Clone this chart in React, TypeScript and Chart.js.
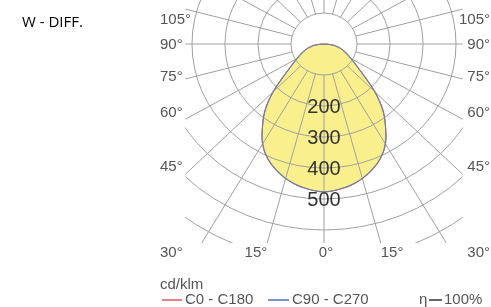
import React, { useEffect, useRef } from 'react';
import { Chart, registerables } from 'chart.js';

Chart.register(...registerables);

// ---- data ----
const gammaAngles = [0, 5, 10, 15, 20, 25, 30, 35, 40, 45, 50, 55, 60, 65, 70, 75, 80, 85, 90];
const intensityC0C180 = [477, 472, 463, 449, 430, 406, 372, 325, 277, 218, 157, 119, 95, 78, 63, 50, 36, 20, 0];
const intensityC90C270 = [477, 472, 463, 449, 430, 406, 372, 325, 277, 218, 157, 119, 95, 78, 63, 50, 36, 20, 0];
const ringValues = [100, 200, 300, 400, 500, 600, 700, 800];
const ringLabelValues = [200, 300, 400, 500];
const rayAngles = [0, 15, 30, 45, 60, 75, 90, 105, 120, 135, 150, 165, 180];
const sideAngleLabels = ['105°', '90°', '75°', '60°', '45°', '30°'];
const bottomAngleLabels = ['15°', '0°', '15°'];
const bottomAngleValues = [-15, 0, 15];
const title = 'W - DIFF.';
const unitLabel = 'cd/klm';
const legendC0 = 'C0 - C180';
const legendC90 = 'C90 - C270';
const efficiencyLabel = '100%';

// ---- layout ----
const W = 491;
const H = 307;
const CX = 324;
const CY = 44;
const KX = 0.33; // px per cd/klm horizontally
const KY = 0.31; // px per cd/klm vertically
const CLIP = { left: -420, right: 420, top: 150, bottom: -642 };
const sideLabelY = [20, 45, 77, 113, 167, 253];

const COLORS = {
  fill: '#f9f08d',
  red: '#e2505e',
  blue: '#4d6fbf',
  outline: '#6f7f9e',
  grid: '#a0a0a0',
  label: '#555555',
  value: '#333333',
};

const rad = (d: number) => (d * Math.PI) / 180;
const polar = (angle: number, r: number, side: number) => ({
  x: side * r * Math.sin(rad(angle)),
  y: -r * Math.cos(rad(angle)),
});

function curve(values: number[]) {
  const pts: { x: number; y: number }[] = [];
  for (let i = gammaAngles.length - 1; i >= 0; i--) pts.push(polar(gammaAngles[i], values[i], -1));
  for (let i = 1; i < gammaAngles.length; i++) pts.push(polar(gammaAngles[i], values[i], 1));
  return pts;
}

const gridPlugin = {
  id: 'polarGrid',
  afterDatasetDraw(chart: any, args: any) {
    if (args.index !== 0) return;
    const { ctx, scales } = chart;
    const sx = scales.x;
    const sy = scales.y;
    const px = (v: number) => sx.getPixelForValue(v);
    const py = (v: number) => sy.getPixelForValue(v);
    ctx.save();
    ctx.beginPath();
    ctx.rect(px(CLIP.left), py(CLIP.top), px(CLIP.right) - px(CLIP.left), py(CLIP.bottom) - py(CLIP.top));
    ctx.clip();
    ctx.strokeStyle = COLORS.grid;
    ctx.lineWidth = 1;
    const ox = px(0);
    const oy = py(0);
    ringValues.forEach((r) => {
      ctx.beginPath();
      ctx.ellipse(ox, oy, px(r) - ox, oy - py(r), 0, 0, Math.PI * 2);
      ctx.stroke();
    });
    rayAngles.forEach((a) => {
      const sides = a === 0 || a === 180 ? [1] : [-1, 1];
      sides.forEach((s) => {
        const p0 = polar(a, ringValues[0], s);
        const p1 = polar(a, 3000, s);
        ctx.beginPath();
        ctx.moveTo(px(p0.x), py(p0.y));
        ctx.lineTo(px(p1.x), py(p1.y));
        ctx.stroke();
      });
    });
    ctx.restore();
  },
  afterDraw(chart: any) {
    const { ctx, scales } = chart;
    const sx = scales.x;
    const sy = scales.y;
    const px = (v: number) => sx.getPixelForValue(v);
    const py = (v: number) => sy.getPixelForValue(v);
    ctx.save();
    // ring value labels
    ctx.fillStyle = COLORS.value;
    ctx.font = '20px "Liberation Sans", Arial, sans-serif';
    ctx.textAlign = 'center';
    ctx.textBaseline = 'middle';
    ringLabelValues.forEach((v) => {
      ctx.fillText(String(v), px(0), py(-v) + 1);
    });
    // side angle labels
    ctx.fillStyle = COLORS.label;
    ctx.font = '15px "Liberation Sans", Arial, sans-serif';
    sideAngleLabels.forEach((t, i) => {
      ctx.textAlign = 'left';
      ctx.fillText(t, 160, sideLabelY[i]);
      ctx.textAlign = 'right';
      ctx.fillText(t, 490, sideLabelY[i]);
    });
    // bottom angle labels
    bottomAngleLabels.forEach((t, i) => {
      const a = bottomAngleValues[i];
      const end = polar(Math.abs(a), -CLIP.bottom / Math.cos(rad(Math.abs(a))), a < 0 ? -1 : 1);
      ctx.textAlign = a < 0 ? 'right' : a > 0 ? 'left' : 'center';
      ctx.fillText(t, px(end.x) + (a === 0 ? 2 : 0), 253);
    });
    // unit + legend
    ctx.textAlign = 'left';
    ctx.fillText(unitLabel, 160, 285);
    ctx.lineWidth = 1.5;
    ctx.strokeStyle = COLORS.red;
    ctx.beginPath();
    ctx.moveTo(162, 300);
    ctx.lineTo(182, 300);
    ctx.stroke();
    ctx.fillText(legendC0, 185, 300);
    ctx.strokeStyle = COLORS.blue;
    ctx.beginPath();
    ctx.moveTo(268, 300);
    ctx.lineTo(289, 300);
    ctx.stroke();
    ctx.fillText(legendC90, 292, 300);
    ctx.fillText('η', 419, 300);
    ctx.strokeStyle = '#333';
    ctx.beginPath();
    ctx.moveTo(429, 300);
    ctx.lineTo(442, 300);
    ctx.stroke();
    ctx.fillText(efficiencyLabel, 444, 300);
    // title
    ctx.fillStyle = '#000';
    ctx.font = '15px "Open Sans", "Noto Sans", sans-serif';
    ctx.fillText(title, 22, 23);
    ctx.restore();
  },
};

export default function App() {
  const ref = useRef<HTMLCanvasElement | null>(null);
  useEffect(() => {
    if (!ref.current) return;
    const chart = new Chart(ref.current, {
      type: 'scatter',
      data: {
        datasets: [
          {
            label: 'fill',
            data: curve(intensityC0C180),
            showLine: true,
            fill: 'shape',
            backgroundColor: COLORS.fill,
            borderWidth: 0,
            pointRadius: 0,
            tension: 0.4,
            order: 3,
          } as any,
          {
            label: legendC0,
            data: curve(intensityC0C180),
            showLine: true,
            borderColor: COLORS.red,
            borderWidth: 1,
            pointRadius: 0,
            tension: 0.4,
            order: 2,
          },
          {
            label: legendC90,
            data: curve(intensityC90C270),
            showLine: true,
            borderColor: COLORS.outline,
            borderWidth: 1.2,
            pointRadius: 0,
            tension: 0.4,
            order: 1,
          },
        ],
      },
      options: {
        animation: false,
        responsive: false,
        devicePixelRatio: 1,
        layout: { padding: 0 },
        scales: {
          x: { type: 'linear', display: false, min: -CX / KX, max: (W - CX) / KX },
          y: { type: 'linear', display: false, min: -(H - CY) / KY, max: CY / KY },
        },
        plugins: { legend: { display: false }, tooltip: { enabled: false } },
      },
      plugins: [gridPlugin],
    });
    return () => chart.destroy();
  }, []);
  return (
    <div style={{ position: 'fixed', left: 0, top: 0, width: W, height: H, background: '#fff' }}>
      <canvas ref={ref} width={W} height={H} style={{ width: W, height: H, display: 'block' }} />
    </div>
  );
}
